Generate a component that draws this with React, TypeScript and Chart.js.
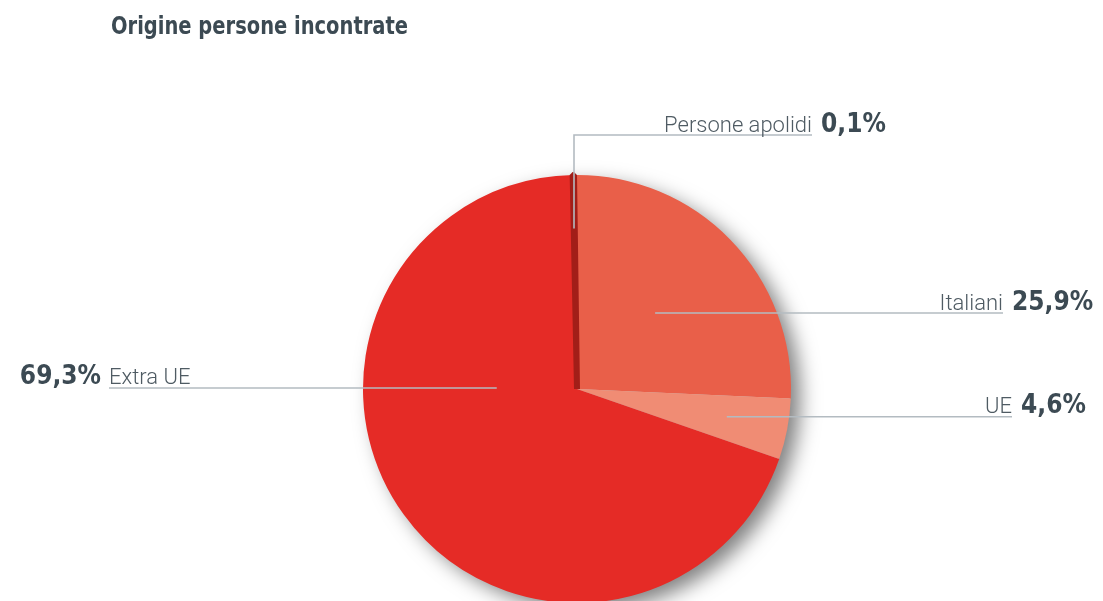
import React, { useEffect, useRef } from "react";
import { Chart, registerables } from "chart.js";

Chart.register(...registerables);

const categories = ["Italiani", "UE", "Extra UE", "Persone apolidi"];
const values = [25.9, 4.6, 69.3, 0.1];
const sliceColors = ["#E95F49", "#F08C74", "#E52B26", "#A21E18"];
const titleText = "Origine persone incontrate";

// annotation layout: anchor inside slice as fraction of radius, label line end
const labelLayout = [
  { ax: 0.365, ay: -0.355, side: "right", endX: 1003, elbowY: null as number | null },
  { ax: 0.7, ay: 0.13, side: "right", endX: 1012, elbowY: null as number | null },
  { ax: -0.375, ay: -0.005, side: "left", endX: 109, elbowY: null as number | null },
  { ax: -0.014, ay: -0.75, side: "right", endX: 812, elbowY: 135 as number | null },
];

const TEXT_DARK = "#3C4A53";
const TEXT_NAME = "#4F5B63";
const LINE_COLOR = "#B3BBC1";
const NAME_FONT = '300 22px Roboto, "DejaVu Sans", sans-serif';
const VALUE_FONT = 'bold 26px "DejaVu Sans Condensed", "DejaVu Sans", sans-serif';
const TITLE_FONT = 'bold 25px "DejaVu Sans Condensed", "DejaVu Sans", sans-serif';

const fmt = (v: number) => v.toFixed(1).replace(".", ",") + "%";

function drawText(ctx: any, text: string, x: number, y: number, align: string, sx: number) {
  ctx.save();
  ctx.translate(x, y);
  ctx.scale(sx, 1);
  ctx.textAlign = align;
  ctx.textBaseline = "alphabetic";
  ctx.fillText(text, 0, 0);
  ctx.restore();
}

const piePlugin = {
  id: "pieDecor",
  beforeDatasetsDraw(chart: any) {
    const ctx = chart.ctx;
    const arc = chart.getDatasetMeta(0).data[0];
    const { x, y, outerRadius } = arc.getProps(["x", "y", "outerRadius"], true);
    ctx.save();
    ctx.shadowColor = "rgba(0,0,0,0.5)";
    ctx.shadowBlur = 20;
    ctx.shadowOffsetX = 10;
    ctx.shadowOffsetY = 8;
    ctx.beginPath();
    ctx.arc(x, y, outerRadius - 1, 0, Math.PI * 2);
    ctx.fillStyle = "#c4c4c4";
    ctx.fill();
    ctx.restore();
  },
  afterDatasetsDraw(chart: any) {
    const ctx = chart.ctx;
    const arc = chart.getDatasetMeta(0).data[0];
    const { x, y, outerRadius } = arc.getProps(["x", "y", "outerRadius"], true);
    const r = outerRadius;
    ctx.save();
    // title
    ctx.font = TITLE_FONT;
    ctx.fillStyle = TEXT_DARK;
    const tw = ctx.measureText(titleText).width;
    drawText(ctx, titleText, 111, 34, "left", 297 / tw);

    labelLayout.forEach((lay, i) => {
      const axp = x + lay.ax * r;
      const ayp = y + lay.ay * r;
      const lineY = lay.elbowY ?? ayp;
      ctx.strokeStyle = LINE_COLOR;
      ctx.lineWidth = 1.6;
      ctx.beginPath();
      ctx.moveTo(axp, ayp);
      if (lay.elbowY != null) ctx.lineTo(axp, lineY);
      ctx.lineTo(lay.endX, lineY);
      ctx.stroke();

      const base = lineY - 3.5;
      const right = lay.side === "right";
      ctx.font = NAME_FONT;
      ctx.fillStyle = TEXT_NAME;
      drawText(ctx, categories[i], lay.endX, base, right ? "right" : "left", 1);
      ctx.font = VALUE_FONT;
      ctx.fillStyle = TEXT_DARK;
      drawText(ctx, fmt(values[i]), right ? lay.endX + 9 : lay.endX - 8, base, right ? "left" : "right", 1);
    });
    ctx.restore();
  },
};

export default function App() {
  const ref = useRef<HTMLCanvasElement | null>(null);
  useEffect(() => {
    if (!ref.current) return;
    const chart = new Chart(ref.current, {
      type: "pie",
      data: {
        labels: categories,
        datasets: [
          {
            data: values,
            backgroundColor: sliceColors,
            borderColor: sliceColors,
            borderWidth: [0, 0, 0, 6],
            borderAlign: "center",
          } as any,
        ],
      },
      options: {
        animation: false,
        responsive: false,
        maintainAspectRatio: false,
        events: [],
        radius: 214,
        rotation: -0.8,
        layout: { padding: { top: 177, bottom: 0, left: 363, right: 312 } },
        plugins: {
          legend: { display: false },
          tooltip: { enabled: false },
          title: { display: false },
        },
      } as any,
      plugins: [piePlugin],
    });
    return () => chart.destroy();
  }, []);
  return (
    <div
      style={{
        position: "fixed",
        left: 0,
        top: 0,
        width: 1103,
        height: 601,
        overflow: "hidden",
        background: "#ffffff",
      }}
    >
      <canvas ref={ref} width={1103} height={601} style={{ width: 1103, height: 601, display: "block" }} />
    </div>
  );
}
